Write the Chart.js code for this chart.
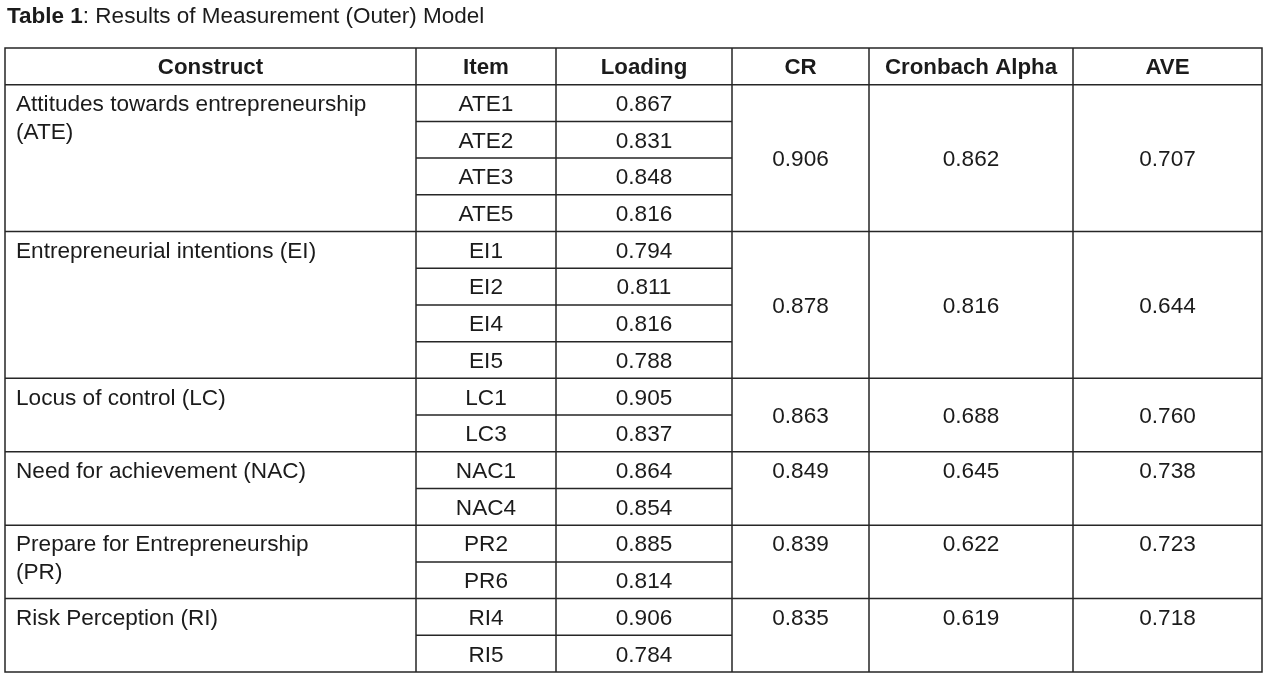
<!DOCTYPE html>
<html>
<head>
<meta charset="utf-8">
<script src="https://cdn.jsdelivr.net/npm/chart.js@4/dist/chart.umd.min.js"></script>
<style>
  html, body { margin: 0; padding: 0; background: #fff; }
  canvas { display: block; }
</style>
</head>
<body>
<canvas id="tableChart" width="1266" height="679"></canvas>
<script>
// table content
const titleBold = 'Table 1';
const titleRest = ': Results of Measurement (Outer) Model';
const headers = ['Construct', 'Item', 'Loading', 'CR', 'Cronbach Alpha', 'AVE'];
const constructs = [
    'Attitudes towards entrepreneurship\n(ATE)',
    'Entrepreneurial intentions (EI)',
    'Locus of control (LC)',
    'Need for achievement (NAC)',
    'Prepare for Entrepreneurship\n(PR)',
    'Risk Perception (RI)'
];
const items = [
    ['ATE1', 'ATE2', 'ATE3', 'ATE5'],
    ['EI1', 'EI2', 'EI4', 'EI5'],
    ['LC1', 'LC3'],
    ['NAC1', 'NAC4'],
    ['PR2', 'PR6'],
    ['RI4', 'RI5']
];
const loadings = [
    [0.867, 0.831, 0.848, 0.816],
    [0.794, 0.811, 0.816, 0.788],
    [0.905, 0.837],
    [0.864, 0.854],
    [0.885, 0.814],
    [0.906, 0.784]
];
const cr = [0.906, 0.878, 0.863, 0.849, 0.839, 0.835];
const cronbachAlpha = [0.862, 0.816, 0.688, 0.645, 0.622, 0.619];
const ave = [0.707, 0.644, 0.760, 0.738, 0.723, 0.718];

// layout (x in table units, one row = 1 y unit)
const colEdges = [0, 411, 551, 727, 864, 1068, 1257];
const summaryAlign = ['middle', 'middle', 'middle', 'top', 'top', 'top'];
const FONT = "'Liberation Sans', Arial, sans-serif";
const FONT_SIZE = 22.6;
const HEAD_SIZE = 22.3;
const LINE_HEIGHT = 28;
const TEXT_COLOR = '#1b1b1b';
const LINE_COLOR = '#262626';

const totalRows = 1 + items.reduce((s, g) => s + g.length, 0);

const tablePlugin = {
    id: 'tablePlugin',
    beforeDraw(chart) {
        const ctx = chart.ctx;
        ctx.save();
        ctx.fillStyle = '#fff';
        ctx.fillRect(0, 0, chart.width, chart.height);
        ctx.restore();
    },
    afterDraw(chart) {
        const ctx = chart.ctx;
        const xs = chart.scales.x;
        const ys = chart.scales.y;
        const px = v => xs.getPixelForValue(v);
        const py = v => ys.getPixelForValue(v);
        const cap = 22 * 0.716;

        ctx.save();
        ctx.fillStyle = TEXT_COLOR;
        ctx.textBaseline = 'alphabetic';

        // title
        ctx.textAlign = 'left';
        ctx.font = 'bold 22.5px ' + FONT;
        ctx.fillText(titleBold, 7, 23);
        const w = ctx.measureText(titleBold).width;
        ctx.font = '22.5px ' + FONT;
        ctx.fillText(titleRest, 7 + w, 23);

        const text = (str, col, rowTop, rowSpan, align, valign) => {
            const lines = String(str).split('\n');
            let yc;
            if (valign === 'top') {
                yc = (py(rowTop) + py(rowTop + 1)) / 2;
            } else {
                yc = (py(rowTop) + py(rowTop + rowSpan)) / 2 - (lines.length - 1) * LINE_HEIGHT / 2;
            }
            let x;
            if (align === 'left') {
                ctx.textAlign = 'left';
                x = px(colEdges[col]) + 11;
            } else {
                ctx.textAlign = 'center';
                x = (px(colEdges[col]) + px(colEdges[col + 1])) / 2;
            }
            lines.forEach((ln, i) => {
                ctx.fillText(ln, x, yc + cap / 2 + i * LINE_HEIGHT);
            });
        };

        // header
        ctx.font = 'bold ' + HEAD_SIZE + 'px ' + FONT;
        headers.forEach((h, c) => text(h, c, 0, 1, 'center', 'middle'));

        // body
        ctx.font = FONT_SIZE + 'px ' + FONT;
        let row = 1;
        const groupTops = [];
        items.forEach((group, g) => {
            groupTops.push(row);
            text(constructs[g], 0, row, group.length, 'left', 'top');
            group.forEach((it, i) => {
                text(it, 1, row + i, 1, 'center', 'middle');
                text(loadings[g][i].toFixed(3), 2, row + i, 1, 'center', 'middle');
            });
            text(cr[g].toFixed(3), 3, row, group.length, 'center', summaryAlign[g]);
            text(cronbachAlpha[g].toFixed(3), 4, row, group.length, 'center', summaryAlign[g]);
            text(ave[g].toFixed(3), 5, row, group.length, 'center', summaryAlign[g]);
            row += group.length;
        });

        // grid lines
        ctx.strokeStyle = LINE_COLOR;
        ctx.lineWidth = 1.5;
        ctx.beginPath();
        const hline = (r, c0, c1) => {
            ctx.moveTo(px(colEdges[c0]) - 0.75, py(r));
            ctx.lineTo(px(colEdges[c1]) + 0.75, py(r));
        };
        hline(0, 0, 6);
        hline(1, 0, 6);
        groupTops.forEach((top, g) => {
            for (let i = 1; i < items[g].length; i++) hline(top + i, 1, 3);
            hline(top + items[g].length, 0, 6);
        });
        colEdges.forEach(e => {
            ctx.moveTo(px(e), py(0));
            ctx.lineTo(px(e), py(totalRows));
        });
        ctx.stroke();
        ctx.restore();
    }
};

new Chart(document.getElementById('tableChart'), {
    type: 'scatter',
    data: { datasets: [{ data: [], pointRadius: 0 }] },
    options: {
        responsive: false,
        animation: false,
        events: [],
        layout: { padding: { left: 5, top: 48, right: 4, bottom: 7 } },
        plugins: { legend: { display: false }, tooltip: { enabled: false }, title: { display: false } },
        scales: {
            x: { type: 'linear', min: colEdges[0], max: colEdges[colEdges.length - 1], display: false },
            y: { type: 'linear', min: 0, max: totalRows, reverse: true, display: false }
        }
    },
    plugins: [tablePlugin]
});
</script>
</body>
</html>
